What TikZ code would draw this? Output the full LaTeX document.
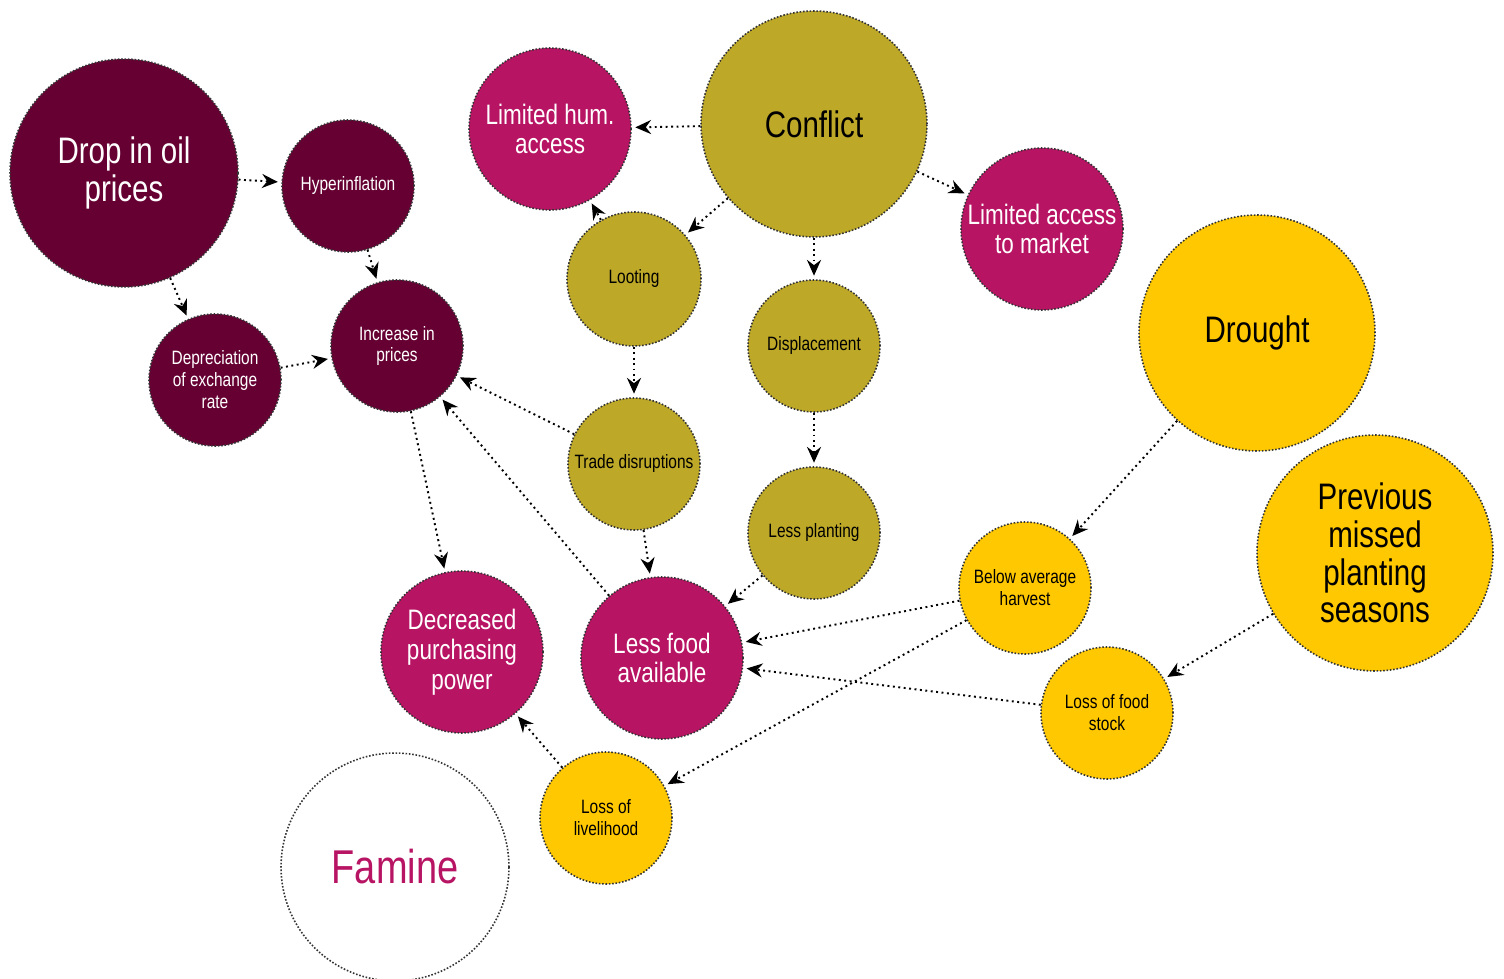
\documentclass[tikz,border=0pt]{standalone}
\usepackage{fontspec}
\setmainfont{Liberation Sans}[FakeStretch=0.8]
\usetikzlibrary{arrows.meta}

\definecolor{wine}{RGB}{102,0,51}
\definecolor{berry}{RGB}{184,20,100}
\definecolor{mustard}{RGB}{189,168,40}
\definecolor{sun}{RGB}{255,200,0}

\tikzset{
  bub/.style={circle, draw=black!80, line width=0.9pt, dash pattern=on 0.9pt off 1pt,
    inner sep=0pt, align=center},
  txtxl/.style={font=\fontsize{27}{30}\selectfont},
  txtl/.style={font=\fontsize{21}{21.5}\selectfont},
  txtm/.style={font=\fontsize{16}{17}\selectfont},
  txts/.style={font=\fontsize{11}{12.5}\selectfont}
}

\begin{document}
\begin{tikzpicture}[x=0.02cm, y=-0.02cm, ->,
    >={Stealth[length=9pt, width=8pt, inset=3pt]},
    every edge/.style={draw, dotted, line width=1.1pt, shorten >=2pt}]
\useasboundingbox (0,0) rectangle (1504,979);

\node (drop)  [bub, fill=wine, text=white, minimum size=4.56cm, txtl] at (124,173) {Drop in oil\\prices};
\node (hyper) [bub, fill=wine, text=white, minimum size=2.64cm, txts] at (348,186) {Hyperinflation};
\node (depr)  [bub, fill=wine, text=white, minimum size=2.64cm, txts] at (215,380) {Depreciation\\of exchange\\rate};
\node (rise)  [bub, fill=wine, text=white, minimum size=2.64cm, txts] at (397,346) {Increase in\\prices};

\node (hum)    [bub, fill=berry, text=white, minimum size=3.24cm, txtm] at (550,129) {Limited hum.\\access};
\node (market) [bub, fill=berry, text=white, minimum size=3.24cm, txtm] at (1042,229) {Limited access\\to market};
\node (food)   [bub, fill=berry, text=white, minimum size=3.24cm, txtm] at (662,658) {Less food\\available};
\node (power)  [bub, fill=berry, text=white, minimum size=3.24cm, txtm] at (462,652) {Decreased\\purchasing\\power};

\node (conflict) [bub, fill=mustard, minimum size=4.52cm, txtl] at (814,124) {Conflict};
\node (loot)     [bub, fill=mustard, minimum size=2.68cm, txts] at (634,279) {Looting};
\node (displ)    [bub, fill=mustard, minimum size=2.64cm, txts] at (814,346) {Displacement};
\node (trade)    [bub, fill=mustard, minimum size=2.64cm, txts] at (634,464) {Trade disruptions};
\node (plant)    [bub, fill=mustard, minimum size=2.64cm, txts] at (814,533) {Less planting};

\node (drought)  [bub, fill=sun, minimum size=4.72cm, txtl] at (1257,333) {Drought};
\node (missed)   [bub, fill=sun, minimum size=4.72cm, txtl] at (1375,553) {Previous\\missed\\planting\\seasons};
\node (harvest)  [bub, fill=sun, minimum size=2.64cm, txts] at (1025,588) {Below average\\harvest};
\node (stock)    [bub, fill=sun, minimum size=2.64cm, txts] at (1107,713) {Loss of food\\stock};
\node (liveli)   [bub, fill=sun, minimum size=2.64cm, txts] at (606,818) {Loss of\\livelihood};

\node (famine) [bub, fill=white, text=berry, minimum size=4.56cm, txtxl] at (395,867) {Famine};

\path (drop) edge (hyper);
\path (drop) edge (depr);
\path (hyper) edge (rise);
\path (depr) edge (rise);

\path (conflict) edge (hum);
\path (conflict) edge (loot);
\path (conflict) edge (market);
\path (conflict) edge (displ);
\path (loot) edge (hum);
\path (loot) edge (trade);
\path (displ) edge (plant);
\path (trade) edge (rise);
\path (trade) edge (food);
\path (plant) edge (food);
\path (food) edge (rise);
\path (rise) edge (power);

\path (drought) edge (harvest);
\path (missed) edge (stock);
\path (harvest) edge (food);
\path (harvest) edge (liveli);
\path (stock) edge (food);
\path (liveli) edge (power);
\end{tikzpicture}
\end{document}
